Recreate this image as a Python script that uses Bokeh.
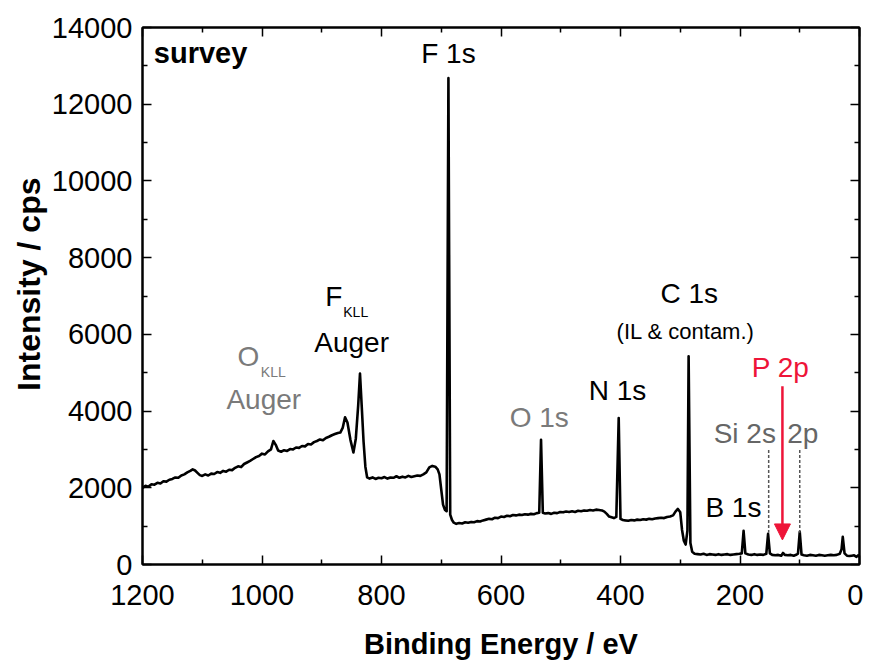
from bokeh.plotting import figure
from bokeh.models import (Range1d, LinearAxis, Label, Arrow, NormalHead, FixedTicker,
                          ColumnDataSource, CustomJSTickFormatter, Title)
from bokeh.embed import file_html
from bokeh.resources import INLINE

# ---- data (binding energy in eV, intensity in cps) ----
be = [1200, 1195, 1190, 1185, 1180, 1175, 1170, 1165, 1160, 1155, 1150, 1145, 1140, 1135, 1130, 1125,
      1120, 1116, 1112, 1108, 1104, 1100, 1095, 1090, 1085, 1080, 1075, 1070, 1065, 1060, 1055, 1050,
      1045, 1040, 1035, 1030, 1025, 1020, 1015, 1010, 1005, 1000, 995, 990, 985, 981, 977, 973, 968,
      963, 958, 953, 948, 943, 938, 933, 928, 923, 918, 913, 908, 903, 898, 893, 888, 883, 878, 873,
      869, 865, 861, 857, 852, 847, 843, 839, 836, 833, 830, 827, 824, 820, 815, 810, 805, 800, 795,
      790, 785, 780, 775, 770, 765, 760, 755, 750, 745, 740, 735, 730, 725, 720, 715, 710, 706, 703,
      700, 697, 694, 691, 688, 685, 682, 679, 675, 670, 665, 660, 655, 650, 645, 640, 635, 630, 625,
      620, 615, 610, 605, 600, 595, 590, 585, 580, 575, 570, 565, 560, 555, 550, 545, 540, 536, 533,
      530, 526, 521, 516, 511, 506, 501, 496, 491, 486, 481, 476, 471, 466, 461, 456, 451, 446, 441,
      436, 431, 427, 423, 419, 415, 411, 407, 403, 400, 396, 392, 387, 382, 377, 372, 367, 362, 357,
      352, 347, 342, 337, 332, 327, 322, 317, 312, 308, 304, 300, 297, 294, 291, 288, 286, 283, 280,
      276, 271, 266, 261, 256, 251, 246, 241, 236, 231, 226, 221, 216, 211, 206, 201, 197, 194, 191,
      186, 181, 176, 171, 166, 161, 156, 153, 150, 146, 141, 136, 131, 128, 125, 120, 115, 110, 105,
      103, 100, 97, 93, 88, 83, 78, 73, 68, 63, 58, 53, 48, 43, 38, 33, 30, 28, 25, 21, 17, 13, 9, 5, 2, 0]
counts = [2000, 2050, 2030, 2090, 2080, 2130, 2110, 2170, 2160, 2210, 2230, 2270, 2260, 2320, 2350, 2400,
          2440, 2480, 2450, 2390, 2330, 2310, 2350, 2320, 2370, 2360, 2410, 2390, 2440, 2420, 2470, 2460,
          2520, 2560, 2540, 2620, 2660, 2700, 2750, 2800, 2830, 2890, 2870, 2950, 3000, 3220, 3120, 2970, 2940,
          2980, 2960, 3010, 3000, 3050, 3040, 3090, 3080, 3140, 3130, 3190, 3220, 3260, 3240, 3300, 3330, 3370, 3400, 3430,
          3440, 3560, 3840, 3700, 3250, 2920, 3280, 4150, 4980, 4100, 3200, 2550, 2270, 2240, 2270, 2230, 2260, 2250, 2280,
          2240, 2270, 2260, 2300, 2260, 2290, 2270, 2310, 2280, 2300, 2320, 2310, 2350, 2400, 2530, 2570, 2550, 2480, 2350,
          1950, 1560, 1430, 1390, 12680, 1300, 1160, 1090, 1060, 1080, 1070, 1100, 1090, 1110, 1100, 1130, 1120, 1150, 1170,
          1190, 1180, 1220, 1210, 1250, 1240, 1270, 1260, 1290, 1280, 1300, 1290, 1310, 1300, 1320, 1310, 1340, 1350, 3250,
          1350, 1330, 1340, 1320, 1350, 1340, 1370, 1360, 1380, 1370, 1390, 1370, 1400, 1390, 1410, 1400, 1420, 1410, 1430,
          1420, 1410, 1380, 1320, 1250, 1230, 1210, 1240, 3820, 1190, 1160, 1150, 1140, 1160, 1150, 1170, 1160, 1180, 1170,
          1190, 1180, 1200, 1210, 1220, 1210, 1240, 1250, 1280, 1380, 1450, 1360, 900, 620, 520, 880, 5430, 560, 330,
          280, 270, 260, 280, 250, 270, 260, 250, 270, 250, 260, 270, 250, 260, 270, 280, 290, 880, 290,
          260, 250, 270, 250, 260, 250, 280, 800, 290, 250, 240, 250, 230, 300, 250, 240, 250, 230, 260,
          280, 850, 260, 240, 230, 250, 240, 230, 250, 240, 230, 240, 250, 240, 250, 280, 400, 720, 290, 230, 220, 230, 240, 200, 240, 200]

x_ticks = [0, 200, 400, 600, 800, 1000, 1200]
x_minor = [100, 300, 500, 700, 900, 1100]
y_ticks = [0, 2000, 4000, 6000, 8000, 10000, 12000, 14000]
y_minor = [1000, 3000, 5000, 7000, 9000, 11000, 13000]

# Si reference marks and P 2p arrow
si_pos = [152, 100]
si_top = [2985, 2985]
si_bottom = [830, 830]
p2p_pos = 129
p2p_from = 4650
p2p_to = 640

FONT = "Liberation Sans"

p = figure(width=863, height=662, x_range=Range1d(1200, 0), y_range=Range1d(0, 14000),
           output_backend="svg", toolbar_location=None,
           min_border_left=142, min_border_right=4, min_border_top=27, min_border_bottom=97)
p.grid.visible = False
p.outline_line_color = "black"
p.outline_line_width = 2
p.background_fill_color = "white"
p.border_fill_color = "white"

def style_axis(ax, labels=True):
    ax.axis_line_width = 2
    ax.axis_line_color = "black"
    ax.major_tick_in = 9
    ax.major_tick_out = 0
    ax.minor_tick_in = 5
    ax.minor_tick_out = 0
    ax.major_tick_line_width = 1.5
    ax.minor_tick_line_width = 1.5
    ax.major_tick_line_color = "black"
    ax.minor_tick_line_color = "black"
    if labels:
        ax.major_label_text_font = FONT
        ax.major_label_text_font_size = "29px"
        ax.major_label_text_color = "black"
        ax.axis_label_text_font = FONT
        ax.axis_label_text_font_size = "29px"
        ax.axis_label_text_font_style = "bold"
        ax.axis_label_text_color = "black"
    else:
        ax.formatter = CustomJSTickFormatter(code="return '';")
        ax.major_label_standoff = 0

p.xaxis.ticker = FixedTicker(ticks=x_ticks, minor_ticks=x_minor)
p.yaxis.ticker = FixedTicker(ticks=y_ticks, minor_ticks=y_minor)
style_axis(p.xaxis[0])
style_axis(p.yaxis[0])
p.xaxis.major_label_standoff = 20
p.yaxis.major_label_standoff = 10
p.xaxis.axis_label = "Binding Energy / eV"
p.xaxis.axis_label_standoff = 20

# y axis title as a side title so it can sit a little above the frame centre
ytitle = Title(text="Intensity / cps", align="right", offset=150, standoff=4,
               text_font=FONT, text_font_size="32px", text_font_style="bold",
               text_color="black")
p.add_layout(ytitle, "left")

top = LinearAxis(ticker=FixedTicker(ticks=x_ticks, minor_ticks=x_minor))
style_axis(top, labels=False)
p.add_layout(top, "above")
right = LinearAxis(ticker=FixedTicker(ticks=y_ticks, minor_ticks=y_minor))
style_axis(right, labels=False)
p.add_layout(right, "right")

src = ColumnDataSource(dict(be=be, counts=counts))
p.line("be", "counts", source=src, line_color="black", line_width=2.6, line_join="round")

# dashed reference lines for Si 2s / 2p
p.segment(x0=si_pos, y0=si_top, x1=si_pos, y1=si_bottom, line_color="#555555",
          line_width=1.5, line_dash="3 2")

# red arrow for P 2p
red = "#ee1438"
p.add_layout(Arrow(end=NormalHead(size=16, fill_color=red, line_color=red),
                   x_start=p2p_pos, y_start=p2p_from, x_end=p2p_pos, y_end=p2p_to,
                   line_color=red, line_width=2.5))

def lab(x, y, text, color="black", size="28px", style="normal", align="center"):
    p.add_layout(Label(x=x, y=y, text=text, text_color=color, text_font=FONT,
                       text_font_size=size, text_font_style=style, text_align=align,
                       text_baseline="alphabetic"))

gray = "#7a7a7a"
lab(1181, 13345, "survey", style="bold", size="29px", align="left")
lab(688, 13335, "F 1s")
lab(894, 6974, "F", align="left")
lab(864, 6583, "KLL", size="14px", align="left")
lab(850, 5800, "Auger")
lab(1041, 5410, "O", color=gray, align="left")
lab(1002, 5019, "KLL", color=gray, size="14px", align="left")
lab(997, 4289, "Auger", color=gray)
lab(536, 3845, "O 1s", color=gray)
lab(405, 4549, "N 1s")
lab(285, 7078, "C 1s")
lab(291, 6062, "(IL & contam.)", size="22px")
lab(132, 5123, "P 2p", color=red)
lab(192, 3428, "Si 2s", color="#666666")
lab(95, 3428, "2p", color="#666666")
lab(211, 1473, "B 1s")

open("out.html", "w").write(file_html(p, INLINE))
